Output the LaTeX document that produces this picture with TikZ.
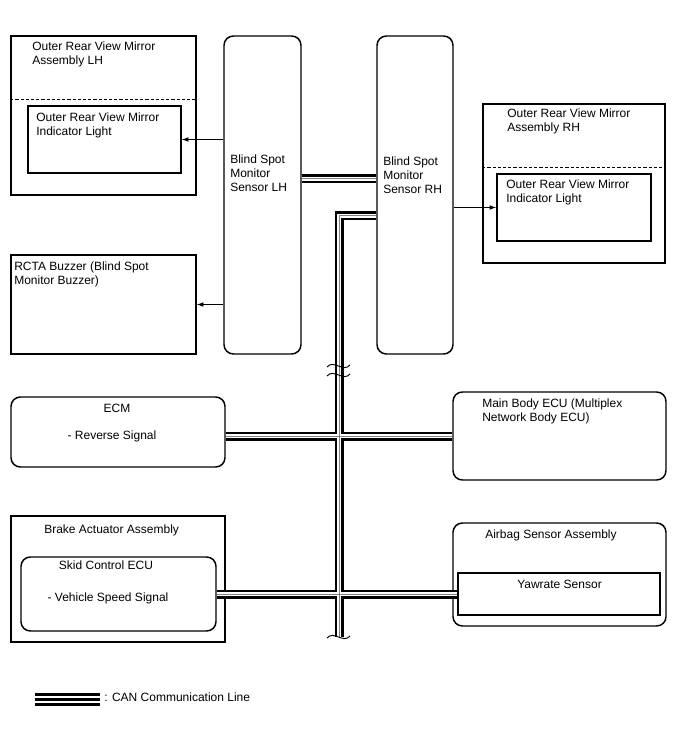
\documentclass[tikz,border=0pt]{standalone}
\usepackage{fontspec}
\setmainfont{Liberation Sans}
\usepackage{tikz}
\usetikzlibrary{calc, fit, arrows.meta}

\tikzset{
    box/.style={draw, line width=1.1pt, inner sep=0pt},
    rbox/.style={box, rounded corners=7pt},
    lbl/.style={anchor=base west, align=left, inner sep=0pt, font=\fontsize{9}{10.5}\selectfont},
    clbl/.style={lbl, anchor=base},
    arr/.style={-{Latex[length=5pt, width=3.5pt]}, line width=0.6pt},
    wave/.style={line width=0.7pt},
    sep/.style={line width=1.1pt, dash pattern=on 2.4pt off 1.5pt}
}

\begin{document}
\begin{tikzpicture}[x=0.75pt, y=-0.75pt]
            \useasboundingbox (0,0) rectangle (688,755);
            \node[box, fit={(11,36) (196,195)}] (lhmirror) {};
            \node[box, fit={(28,106) (181,173)}] (lhlight) {};
            \node[rbox, fit={(224,36) (301,354)}] (lhsensor) {};
            \node[rbox, fit={(377,36) (453,354)}] (rhsensor) {};
            \node[box, fit={(483,104) (665,263)}] (rhmirror) {};
            \node[box, fit={(497,174) (651,241)}] (rhlight) {};
            \node[box, fit={(11,255) (196,354)}] (buzzer) {};
            \node[rbox, fit={(11,397) (225,467)}] (ecm) {};
            \node[rbox, fit={(453,392) (666,480)}] (bodyecu) {};
            \node[box, fit={(11,516) (225,642)}] (brake) {};
            \node[rbox, fit={(21,557) (216,631)}] (skid) {};
            \node[rbox, fit={(453,523) (666,626)}] (airbag) {};
            \node[box, fit={(458,573) (660,615)}] (yawrate) {};
            \draw[sep] ($(lhmirror.north west)!0.4!(lhmirror.south west)$) -- ($(lhmirror.north east)!0.4!(lhmirror.south east)$);
            \draw[sep] ($(rhmirror.north west)!0.4!(rhmirror.south west)$) -- ($(rhmirror.north east)!0.4!(rhmirror.south east)$);
            \node[lbl] (lhmirrortxt) at (32,65) {Outer Rear View Mirror\\Assembly LH};
            \node[lbl] (lhlighttxt) at (36,136) {Outer Rear View Mirror\\Indicator Light};
            \node[lbl] (lhsensortxt) at (230,192) {Blind Spot\\Monitor\\Sensor LH};
            \node[lbl] (rhsensortxt) at (383,194) {Blind Spot\\Monitor\\Sensor RH};
            \node[lbl] (rhmirrortxt) at (507,132) {Outer Rear View Mirror\\Assembly RH};
            \node[lbl] (rhlighttxt) at (506,203) {Outer Rear View Mirror\\Indicator Light};
            \node[lbl] (buzzertxt) at (14,284) {RCTA Buzzer (Blind Spot\\Monitor Buzzer)};
            \node[clbl] (ecmtxt) at (117,412) {ECM};
            \node[clbl] (revtxt) at (112,439) {- Reverse Signal};
            \node[lbl] (bodyecutxt) at (482,421) {Main Body ECU (Multiplex\\Network Body ECU)};
            \node[lbl] (braketxt) at (44,533) {Brake Actuator Assembly};
            \node[clbl] (skidtxt) at (106,569) {Skid Control ECU};
            \node[clbl] (speedtxt) at (108,601) {- Vehicle Speed Signal};
            \node[lbl] (airbagtxt) at (485,538) {Airbag Sensor Assembly};
            \node[lbl] (yawtxt) at (517,588) {Yawrate Sensor};
            % signal lines
            \draw[arr] (lhsensor.west |- lhlight.east) -- (lhlight.east);
            \draw[arr] (lhsensor.west |- buzzer.east) -- (buzzer.east);
            \draw[arr] (rhsensor.east |- rhlight.west) -- (rhlight.west);
            % CAN lines
            \coordinate (sensorcan) at (0,179);
            \coordinate (bend) at (339,216);
            \coordinate (busend) at (339,637);
            \coordinate (ecmcan) at (0,436);
            \foreach \w/\c in {6.75pt/black, 2.4pt/white, 0.75pt/gray} {
                \draw[line width=\w, \c] (lhsensor.east |- sensorcan) -- (rhsensor.west |- sensorcan);
                \draw[line width=\w, \c, line join=miter] (rhsensor.west |- bend) -- (bend) -- (busend);
                \draw[line width=\w, \c] (ecm.east |- ecmcan) -- (bodyecu.west |- ecmcan);
                \draw[line width=\w, \c] (skid.east) -- (yawrate.west);
            }
            \draw[wave] (327,367) .. controls (334,359) and (343,373) .. (350,365);
            \draw[wave] (327,376) .. controls (334,368) and (343,382) .. (350,374);
            \draw[wave] (327,638) .. controls (334,630) and (343,644) .. (350,636);
            %\draw[help lines, step=50] (0,0) grid (688,755);
            % legend
            \foreach \y in {694, 699, 704}
                \draw[line width=2.25pt] (35,\y) -- (100,\y);
            \node[lbl] (legendtxt) at (104,701) {: CAN Communication Line};
\end{tikzpicture}
\end{document}
